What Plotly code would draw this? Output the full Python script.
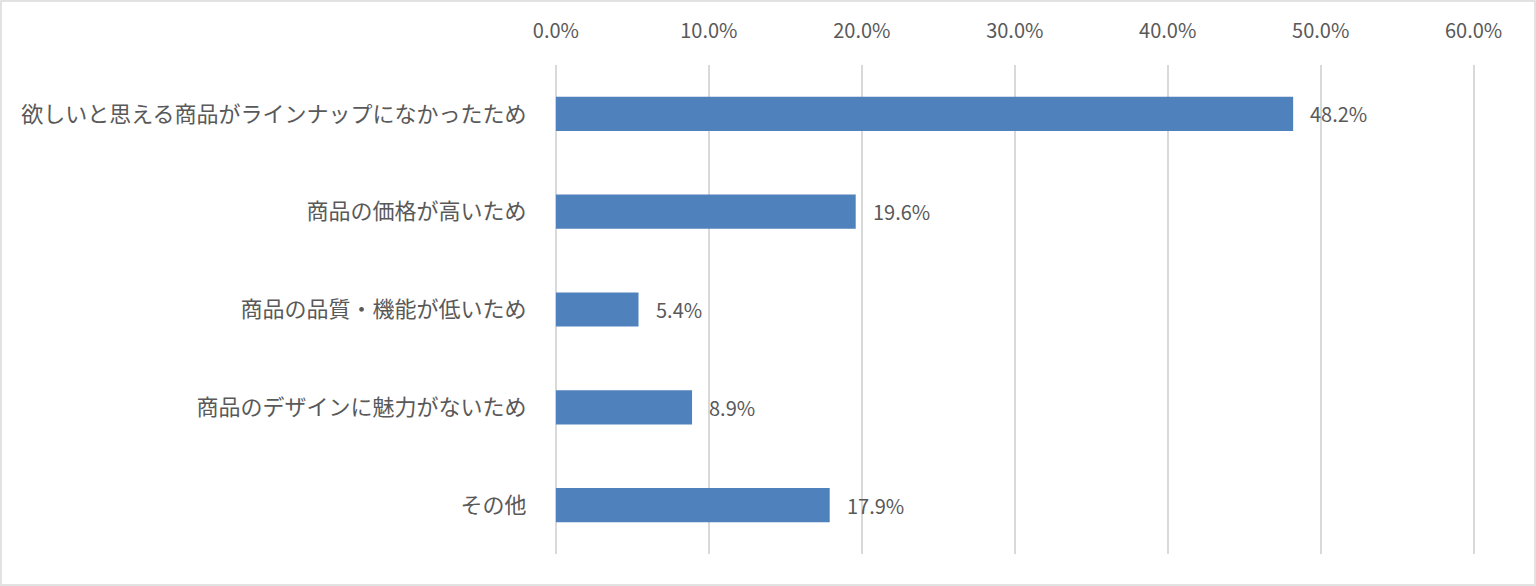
import plotly.graph_objects as go

categories = ["欲しいと思える商品がラインナップになかったため", "商品の価格が高いため", "商品の品質・機能が低いため", "商品のデザインに魅力がないため", "その他"]
values = [48.2, 19.6, 5.4, 8.9, 17.9]
tick_vals = [0, 10, 20, 30, 40, 50, 60]
tick_text = ["0.0%", "10.0%", "20.0%", "30.0%", "40.0%", "50.0%", "60.0%"]

W, H = 1536, 586
ML, MR, MT, MB = 555, 57, 65, 32
FONT = "Noto Sans CJK JP"
TXT = "#595959"

fig = go.Figure(go.Bar(
    y=categories, x=values, orientation="h",
    marker=dict(color="#4F81BD", line=dict(width=0)),
    width=0.35, hoverinfo="skip",
))

for c, v in zip(categories, values):
    fig.add_annotation(x=v, y=c, text=f"{v:.1f}%", showarrow=False,
                       xanchor="left", xshift=15, font=dict(family=FONT, size=20, color=TXT))

pw = W - ML - MR
ph = H - MT - MB
fig.add_shape(type="rect", xref="paper", yref="paper",
              x0=-(ML - 1) / pw, x1=1 + (MR - 1) / pw,
              y0=-(MB - 1) / ph, y1=1 + (MT - 1) / ph,
              line=dict(color="#d9d9d9", width=1.5), layer="below")

fig.update_layout(
    width=W, height=H, margin=dict(l=ML, r=MR, t=MT, b=MB),
    paper_bgcolor="white", plot_bgcolor="white", showlegend=False,
    font=dict(family=FONT, color=TXT),
    xaxis=dict(side="top", range=[-0.06, 60.35], tickvals=tick_vals, ticktext=tick_text,
               showgrid=True, gridcolor="#d9d9d9", gridwidth=1.5,
               zeroline=True, zerolinecolor="#d9d9d9", zerolinewidth=1.5,
               showline=False, ticks="outside", ticklen=18, tickcolor="rgba(0,0,0,0)",
               tickfont=dict(family=FONT, size=20, color=TXT), fixedrange=True),
    yaxis=dict(autorange="reversed", showgrid=False, zeroline=False, showline=False,
               ticks="outside", ticklen=23, tickcolor="rgba(0,0,0,0)",
               tickfont=dict(family=FONT, size=22, color=TXT), fixedrange=True),
)

fig.write_html("out.html", config={"displayModeBar": False},
               post_script="document.body.style.margin='0';document.body.style.overflow='hidden';")
